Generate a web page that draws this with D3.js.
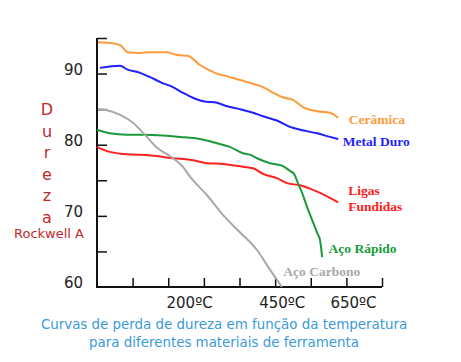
<!DOCTYPE html>
<html>
<head>
<meta charset="utf-8">
<script src="https://cdn.jsdelivr.net/npm/d3@7"></script>
<style>
  body { margin: 0; background: #fff; }
  svg { display: block; }
</style>
</head>
<body>
<div id="chart"></div>
<script>
// x runs over the 8 tick intervals of the axis, y is Rockwell A hardness
const ceramica = [[0.03,94.4],[0.36,94.3],[0.65,94.0],[0.87,93.0],[1.21,92.9],[1.49,93.0],[1.96,93.0],[2.25,92.6],[2.55,92.5],[2.89,91.2],[3.31,90.1],[3.73,89.5],[4.21,88.8],[4.66,88.1],[4.91,87.4],[5.19,86.7],[5.50,86.3],[5.78,85.3],[6.18,84.7],[6.54,84.5],[6.77,83.8]];
const metalDuro = [[0.08,90.8],[0.65,91.1],[0.84,90.6],[1.21,90.1],[1.49,89.5],[1.82,88.7],[2.13,88.1],[2.41,87.3],[2.69,86.6],[2.98,86.1],[3.37,85.9],[3.65,85.4],[4.01,85.0],[4.38,84.5],[4.66,84.0],[5.05,83.4],[5.42,82.5],[5.70,82.1],[6.18,81.6],[6.54,81.1],[6.77,80.8]];
const acoCarbono = [[0.03,85.0],[0.22,84.9],[0.65,84.2],[1.01,83.1],[1.40,81.1],[1.68,79.6],[1.82,79.1],[2.13,78.1],[2.41,76.9],[2.61,75.5],[3.09,72.9],[3.54,70.1],[4.01,67.7],[4.49,65.2],[4.86,62.4],[5.19,60.0]];
const acoRapido = [[0,82.1],[0.36,81.6],[0.84,81.4],[1.29,81.4],[1.85,81.3],[2.33,81.1],[2.89,80.8],[3.37,80.2],[3.73,79.7],[4.10,78.8],[4.29,78.6],[4.49,78.1],[4.86,77.4],[5.22,77.0],[5.42,76.3],[5.53,75.9],[5.64,74.6],[5.76,73.2],[5.90,71.2],[6.04,69.4],[6.18,67.6],[6.26,66.6],[6.32,64.2]];
const ligas = [[0,79.7],[0.28,79.1],[0.73,78.7],[1.12,78.6],[1.68,78.4],[2.13,78.1],[2.61,77.9],[3.09,77.4],[3.54,77.3],[4.10,76.9],[4.38,76.7],[4.66,75.9],[5.05,75.3],[5.33,74.6],[5.70,74.3],[6.18,73.4],[6.77,71.9]];

const yTickLabels = [60, 70, 80, 90];
const xTickLabels = [["200ºC", 2.6], ["450ºC", 5.2], ["650ºC", 7.2]];

const series = [
  { data: ceramica,   color: "#ff9a3c", label: ["Cerâmica"],          lx: 7.07, ly: 82.9 },
  { data: metalDuro,  color: "#1f1fff", label: ["Metal Duro"],        lx: 6.9,  ly: 79.8 },
  { data: ligas,      color: "#ff2020", label: ["Ligas", "Fundidas"], lx: 7.05, ly: 73.0 },
  { data: acoRapido,  color: "#1a9a3a", label: ["Aço Rápido"],        lx: 6.5,  ly: 64.8 },
  { data: acoCarbono, color: "#a8a8a8", label: ["Aço Carbono"],       lx: 5.23, ly: 61.6 }
];

const W = 461, H = 362;
const svg = d3.select("#chart").append("svg").attr("width", W).attr("height", H);

const x = d3.scaleLinear().domain([0, 8]).range([97, 382]);
const y = d3.scaleLinear().domain([60, 95]).range([287, 38]);

// axes: ticks point inwards
svg.append("g")
  .attr("transform", "translate(0," + y(60) + ")")
  .call(d3.axisTop(x).tickValues(d3.range(1, 9)).tickSize(9).tickFormat(""))
  .call(g => g.select(".domain").remove())
  .selectAll("line").attr("stroke", "#111").attr("stroke-width", 1.5);

svg.append("g")
  .attr("transform", "translate(" + x(0) + ",0)")
  .call(d3.axisRight(y).tickValues(d3.range(65, 96, 5)).tickSize(10).tickFormat(""))
  .call(g => g.select(".domain").remove())
  .selectAll("line").attr("stroke", "#111").attr("stroke-width", 1.5);

svg.append("path")
  .attr("d", d3.line()([[x(0), y(95)], [x(0), y(60)], [x(8), y(60)]]))
  .attr("fill", "none").attr("stroke", "#111").attr("stroke-width", 2);

svg.append("g").selectAll("text")
  .data(yTickLabels)
  .join("text")
  .attr("x", 83)
  .attr("y", d => y(d) + 1)
  .attr("text-anchor", "end")
  .attr("font-family", "DejaVu Sans")
  .attr("font-size", 15)
  .attr("fill", "#222")
  .text(d => d);

svg.append("g").selectAll("text")
  .data(xTickLabels)
  .join("text")
  .attr("x", d => x(d[1]))
  .attr("y", 308)
  .attr("text-anchor", "middle")
  .attr("font-family", "DejaVu Sans")
  .attr("font-size", 15)
  .attr("fill", "#222")
  .text(d => d[0]);

// curves
const line = d3.line().x(d => x(d[0])).y(d => y(d[1])).curve(d3.curveMonotoneX);
svg.append("g").selectAll("path")
  .data(series)
  .join("path")
  .attr("d", d => line(d.data))
  .attr("fill", "none")
  .attr("stroke", d => d.color)
  .attr("stroke-width", 2);

// series labels
series.forEach(s => {
  const t = svg.append("text")
    .attr("x", x(s.lx))
    .attr("y", y(s.ly))
    .attr("font-family", "Liberation Serif")
    .attr("font-weight", "bold")
    .attr("font-size", 13.5)
    .attr("fill", s.color);
  s.label.forEach((l, i) => {
    t.append("tspan").attr("x", x(s.lx)).attr("dy", i ? 16.6 : 0).text(l);
  });
});

// y title
const title = svg.append("g").attr("fill", "#c0282d").attr("font-family", "DejaVu Sans");
title.selectAll("text.letter")
  .data("Dureza".split(""))
  .join("text")
  .attr("class", "letter")
  .attr("x", 47)
  .attr("y", (d, i) => 115 + i * 21.5)
  .attr("text-anchor", "middle")
  .attr("font-size", 16)
  .text(d => d);
title.append("text")
  .attr("x", 49)
  .attr("y", 238)
  .attr("text-anchor", "middle")
  .attr("font-size", 13)
  .text("Rockwell A");

// caption
svg.append("g").selectAll("text")
  .data(["Curvas de perda de dureza em função da temperatura", "para diferentes materiais de ferramenta"])
  .join("text")
  .attr("x", 224)
  .attr("y", (d, i) => 329 + i * 18)
  .attr("text-anchor", "middle")
  .attr("font-family", "DejaVu Sans")
  .attr("font-size", 13.4)
  .attr("fill", "#3a9ad8")
  .text(d => d);
</script>
</body>
</html>
